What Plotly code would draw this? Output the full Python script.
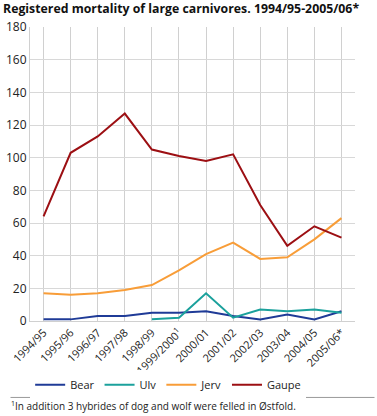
import plotly.graph_objects as go

seasons = ["1994/95", "1995/96", "1996/97", "1997/98", "1998/99", "1999/2000<sup>1</sup>",
           "2000/01", "2001/02", "2002/03", "2003/04", "2004/05", "2005/06*"]
bear = [1, 1, 3, 3, 5, 5, 6, 3, 1, 4, 1, 6]
ulv = [None, None, None, None, 1, 2, 17, 2, 7, 6, 7, 5]
jerv = [17, 16, 17, 19, 22, 31, 41, 48, 38, 39, 50, 63]
gaupe = [64, 103, 113, 127, 105, 101, 98, 102, 71, 46, 58, 51]

series = [("Bear", bear, "#1f3b97"), ("Ulv", ulv, "#1ba19c"),
          ("Jerv", jerv, "#f89d38"), ("Gaupe", gaupe, "#9c0f13")]

fig = go.Figure()
x = list(range(len(seasons)))
for name, vals, col in series:
    fig.add_trace(go.Scatter(x=x, y=vals, name=name, mode="lines",
                             line=dict(color=col, width=2), connectgaps=False))

fig.update_layout(
    width=377, height=416,
    margin=dict(l=30, r=22, t=27, b=95, autoexpand=False),
    paper_bgcolor="white", plot_bgcolor="white",
    font=dict(family="Open Sans", size=11, color="#222"),
    showlegend=True,
    legend=dict(orientation="h", xref="container", yref="container",
                x=0.08, xanchor="left", y=0.075, yanchor="middle",
                font=dict(size=11), itemwidth=30, tracegroupgap=0),
    title=dict(text="<b>Registered mortality of large carnivores. 1994/95-2005/06*</b>",
               xref="container", yref="container",
               x=0.008, xanchor="left", y=0.99, yanchor="top",
               font=dict(size=12.3, color="#111")),
)
fig.update_xaxes(tickmode="array", tickvals=x, ticktext=seasons, tickangle=-45,
                 range=[-0.5, 11.5], showgrid=True, gridcolor="#d0d0d0", gridwidth=1,
                 showline=True, linecolor="#d0d0d0", ticks="", zeroline=False,
                 tickfont=dict(size=11), automargin=False)
fig.update_yaxes(range=[0, 180], dtick=20, showgrid=True, gridcolor="#d8d8d8", gridwidth=1,
                 showline=True, linecolor="#d0d0d0", zeroline=False, ticks="",
                 tickfont=dict(size=12), automargin=False)

fig.add_shape(type="line", xref="paper", yref="paper", x0=-0.06, x1=1.06,
              y0=-0.26, y1=-0.26, line=dict(color="#999", width=1))
fig.add_annotation(text="<sup>1</sup>In addition 3 hybrides of dog and wolf were felled in Østfold.",
                   xref="paper", yref="paper", x=-0.065, y=-0.288, xanchor="left", yanchor="middle",
                   showarrow=False, font=dict(size=10, color="#222"))

fig.write_html("out.html", config={"displayModeBar": False},
               post_script="document.body.style.margin='0';document.body.style.overflow='hidden';")
